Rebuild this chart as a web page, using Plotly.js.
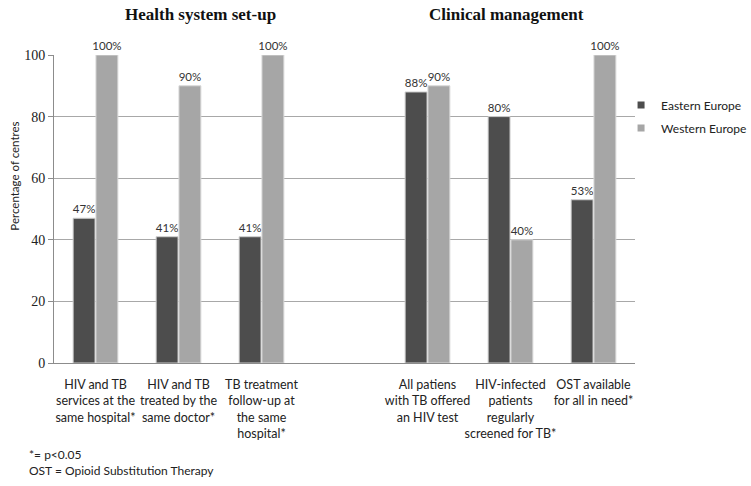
<!DOCTYPE html>
<html>
<head>
<meta charset="utf-8">
<script src="https://cdn.plot.ly/plotly-3.0.1.min.js"></script>
<style>html,body{margin:0;padding:0;background:#fff;}#chart{width:751px;height:486px;}</style>
</head>
<body>
<div id="chart"></div>
<script>
// Categories (the empty string marks the gap between the two panels)
const categories = [
  "HIV and TB<br>services at the<br>same hospital*",
  "HIV and TB<br>treated by the<br>same doctor*",
  "TB treatment<br>follow-up at<br>the same<br>hospital*",
  "",
  "All patiens<br>with TB offered<br>an HIV test",
  "HIV-infected<br>patients<br>regularly<br>screened for TB*",
  "OST available<br>for all in need*"
];
const eastern = [47, 41, 41, null, 88, 80, 53];
const western = [100, 90, 100, null, 90, 40, 100];
const seriesNames = ["Eastern Europe", "Western Europe"];
const seriesColors = ["#4d4d4d", "#a6a6a6"];
const yTicks = [0, 20, 40, 60, 80, 100];
const groupTitles = ["Health system set-up", "Clinical management"];
const yTitle = "Percentage of centres";
const notes = ["*= p<0.05", "OST = Opioid Substitution Therapy"];

const xIdx = categories.map((c, i) => i);
const fmt = v => (v === null ? "" : v + "%");
const font = "Lato, 'Open Sans', sans-serif";

const barTrace = (vals, i) => ({
  type: "bar", name: seriesNames[i], x: xIdx, y: vals,
  text: vals.map(fmt), textposition: "outside", cliponaxis: false, constraintext: "none",
  textfont: {family: font, size: 11.5, color: "#333"},
  marker: {color: seriesColors[i], line: {color: i === 0 ? "#cfcfcf" : "#d8d8d8", width: 1}},
  showlegend: false, hoverinfo: "skip"
});
const legendTrace = i => ({
  type: "scatter", mode: "markers", name: seriesNames[i], x: [null], y: [null],
  legendgroup: "g" + i,
  marker: {symbol: "square", size: 7, color: seriesColors[i]},
  showlegend: true, hoverinfo: "skip"
});

const traces = [barTrace(eastern, 0), barTrace(western, 1), legendTrace(0), legendTrace(1)];

const layout = {
  width: 751, height: 486,
  margin: {l: 54, r: 116, t: 55, b: 123, autoexpand: false},
  paper_bgcolor: "#fff", plot_bgcolor: "#fff",
  font: {family: font, size: 12, color: "#222"},
  barmode: "group", bargap: 0.45, bargroupgap: 0.04,
  showlegend: true,
  legend: {x: 0.976, y: 0.885, xanchor: "left", yanchor: "top",
           bgcolor: "rgba(0,0,0,0)", traceorder: "grouped", tracegroupgap: 4,
           font: {family: font, size: 12, color: "#222"}},
  xaxis: {
    range: [-0.5, categories.length - 0.5],
    tickvals: xIdx, ticktext: categories,
    ticks: "outside", ticklen: 10, tickcolor: "rgba(0,0,0,0)",
    showgrid: false, zeroline: false,
    showline: true, linecolor: "#8c8c8c", linewidth: 1,
    tickfont: {family: font, size: 12.5, color: "#222"},
    tickangle: 0, fixedrange: true
  },
  yaxis: {
    range: [0, 100], tickvals: yTicks, ticktext: yTicks.map(String),
    showgrid: true, gridcolor: "#a8a8a8", gridwidth: 1,
    zeroline: false, showline: true, linecolor: "#8c8c8c", linewidth: 1,
    ticks: "outside", ticklen: 5, tickcolor: "#8c8c8c",
    tickfont: {family: "'Liberation Serif', serif", size: 14, color: "#222"},
    fixedrange: true
  },
  annotations: [
    {text: "<b>" + groupTitles[0] + "</b>", xref: "paper", yref: "paper", x: 0.253, y: 1.13,
     xanchor: "center", yanchor: "middle",
     showarrow: false, font: {family: "'Liberation Serif', serif", size: 17, color: "#111"}},
    {text: "<b>" + groupTitles[1] + "</b>", xref: "paper", yref: "paper", x: 0.778, y: 1.13,
     xanchor: "center", yanchor: "middle",
     showarrow: false, font: {family: "'Liberation Serif', serif", size: 17, color: "#111"}},
    {text: yTitle, xref: "paper", yref: "paper", x: -0.0671, y: 0.605, textangle: -90,
     xanchor: "center", yanchor: "middle",
     showarrow: false, font: {family: font, size: 11.5, color: "#222"}},
    {text: notes.join("<br>"), xref: "paper", yref: "paper", x: -0.0465, y: -0.322,
     xanchor: "left", yanchor: "middle", align: "left",
     showarrow: false, font: {family: font, size: 12, color: "#222"}}
  ]
};

Plotly.newPlot("chart", traces, layout, {displayModeBar: false, staticPlot: true});
</script>
</body>
</html>
